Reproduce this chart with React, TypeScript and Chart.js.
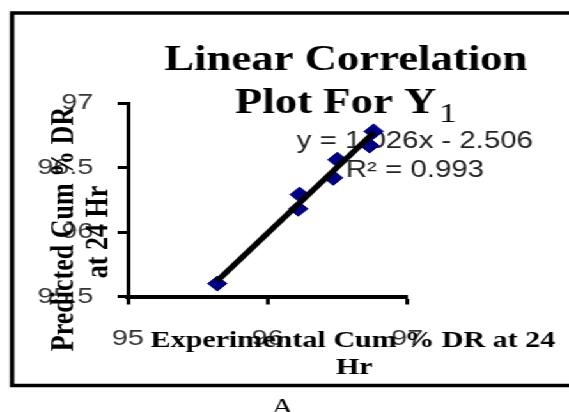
import React, { useEffect, useRef } from "react";
import { Chart, registerables } from "chart.js";

Chart.register(...registerables);

// ---- data ----
const experimental = [95.64, 96.23, 96.22, 96.47, 96.5, 96.73, 96.76];
const predicted = [95.6, 96.29, 96.18, 96.42, 96.56, 96.67, 96.78];
const xTickValues = [95, 96, 97];
const yTickValues = [95.5, 96, 96.5, 97];
const trendSlope = 1.026;
const trendIntercept = -2.506;
const rSquared = 0.993;
const titleLines = ["Linear Correlation", "Plot For Y"];
const titleSubscript = "1";
const yTitleLines = ["Predicted Cum % DR", "at 24 Hr"];
const xTitleLines = ["Experimental Cum % DR at 24", "Hr"];
const caption = "A";

const W = 445;
const H = 412;
const SX = 569 / W;

const SERIF = '"Liberation Serif", "Times New Roman", serif';
const SANS = '"Liberation Sans", Arial, sans-serif';

const decoPlugin = {
  id: "deco",
  beforeDraw(chart: any) {
    const ctx = chart.ctx;
    ctx.save();
    ctx.fillStyle = "#fff";
    ctx.fillRect(0, 0, W, H);
    ctx.strokeStyle = "#000";
    ctx.lineWidth = 3.5;
    ctx.beginPath();
    ctx.moveTo(W + 5, 13);
    ctx.lineTo(9.5, 13);
    ctx.lineTo(9.5, 385.5);
    ctx.lineTo(W + 5, 385.5);
    ctx.stroke();
    ctx.restore();
  },
  beforeDatasetsDraw(chart: any) {
    const ctx = chart.ctx;
    ctx.save();
    ctx.fillStyle = "#222";
    ctx.font = `23px ${SANS}`;
    ctx.textAlign = "center";
    ctx.textBaseline = "alphabetic";
    const sign = trendIntercept < 0 ? "-" : "+";
    ctx.fillText(
      `y = ${trendSlope.toFixed(3)}x ${sign} ${Math.abs(trendIntercept).toFixed(3)}`,
      324.5,
      148
    );
    ctx.fillText(`R² = ${rSquared.toFixed(3)}`, 324.5, 177);
    ctx.restore();
  },
  afterDraw(chart: any) {
    const ctx = chart.ctx;
    ctx.save();
    ctx.fillStyle = "#000";
    ctx.textBaseline = "alphabetic";
    // chart title
    ctx.font = `bold 35px ${SERIF}`;
    ctx.textAlign = "center";
    ctx.fillText(titleLines[0], 270.5, 70);
    const w1 = ctx.measureText(titleLines[1]).width;
    ctx.font = `28px ${SERIF}`;
    const w2 = ctx.measureText(titleSubscript).width;
    const gap = 2;
    const startX = 270.5 - (w1 + gap + w2) / 2;
    ctx.textAlign = "left";
    ctx.font = `bold 35px ${SERIF}`;
    ctx.fillText(titleLines[1], startX, 113);
    ctx.font = `28px ${SERIF}`;
    ctx.fillText(titleSubscript, startX + w1 + gap, 122);

    // y axis title
    ctx.font = `bold 26px ${SERIF}`;
    ctx.textAlign = "center";
    ctx.textBaseline = "middle";
    const yPos = [
      [50, 229],
      [77, 232],
    ];
    yTitleLines.forEach((t, i) => {
      ctx.save();
      ctx.translate(yPos[i][0], yPos[i][1]);
      ctx.rotate(-Math.PI / 2);
      ctx.fillText(t, 0, 0);
      ctx.restore();
    });

    // x axis title
    ctx.textBaseline = "alphabetic";
    ctx.font = `bold 23.5px ${SERIF}`;
    ctx.fillText(xTitleLines[0], 276, 347);
    ctx.fillText(xTitleLines[1], 277, 374);

    // caption
    ctx.font = `24px ${SERIF}`;
    ctx.fillText(caption, 221, 414);
    ctx.restore();
  },
};

export default function App() {
  const ref = useRef<HTMLCanvasElement | null>(null);

  useEffect(() => {
    if (!ref.current) return;
    const xs = experimental;
    const minX = Math.min(...xs);
    const maxX = Math.max(...xs);
    const trend = [
      { x: minX, y: trendSlope * minX + trendIntercept },
      { x: maxX, y: trendSlope * maxX + trendIntercept },
    ];
    const points = experimental.map((x, i) => ({ x, y: predicted[i] }));

    const chart = new Chart(ref.current, {
      type: "scatter",
      data: {
        datasets: [
          {
            label: "Linear",
            data: trend,
            showLine: true,
            borderColor: "#000",
            borderWidth: 5,
            pointRadius: 0,
            pointHoverRadius: 0,
            order: 0,
          } as any,
          {
            label: "Y1",
            data: points,
            pointStyle: "rectRot",
            pointRadius: 7.5,
            backgroundColor: "#000080",
            borderColor: "#000080",
            borderWidth: 1,
            order: 1,
          } as any,
        ],
      },
      plugins: [decoPlugin],
      options: {
        responsive: false,
        maintainAspectRatio: false,
        devicePixelRatio: 1,
        animation: false,
        layout: { padding: { left: 0, top: 103, right: W - 318.5, bottom: 0 } },
        plugins: {
          legend: { display: false },
          title: { display: false },
          tooltip: { enabled: false },
        },
        scales: {
          x: {
            type: "linear",
            min: xTickValues[0],
            max: xTickValues[xTickValues.length - 1],
            afterBuildTicks: (s: any) => {
              s.ticks = xTickValues.map((v) => ({ value: v }));
            },
            afterFit: (s: any) => {
              s.height = H - 296.5;
            },
            ticks: {
              padding: 21,
              color: "#333",
              font: { family: SANS, size: 22.5 },
              callback: (v: any) => String(v),
            },
            grid: {
              drawOnChartArea: false,
              drawTicks: true,
              tickLength: 8,
              tickWidth: 3,
              tickColor: "#000",
            },
            border: { display: true, color: "#000", width: 4 },
          },
          y: {
            type: "linear",
            min: yTickValues[0],
            max: yTickValues[yTickValues.length - 1],
            afterBuildTicks: (s: any) => {
              s.ticks = yTickValues.map((v) => ({ value: v }));
            },
            afterFit: (s: any) => {
              s.width = 100;
            },
            ticks: {
              padding: 19,
              color: "#333",
              font: { family: SANS, size: 22.5 },
              callback: (v: any) => String(v),
            },
            grid: {
              drawOnChartArea: false,
              drawTicks: true,
              tickLength: 8,
              tickWidth: 3,
              tickColor: "#000",
            },
            border: { display: true, color: "#000", width: 3 },
          },
        },
      },
    });
    return () => chart.destroy();
  }, []);

  return (
    <div
      style={{
        position: "fixed",
        left: 0,
        top: 0,
        width: W,
        height: H,
        transform: `scaleX(${SX})`,
        transformOrigin: "0 0",
        background: "#fff",
      }}
    >
      <canvas ref={ref} width={W} height={H} style={{ width: W, height: H }} />
    </div>
  );
}
